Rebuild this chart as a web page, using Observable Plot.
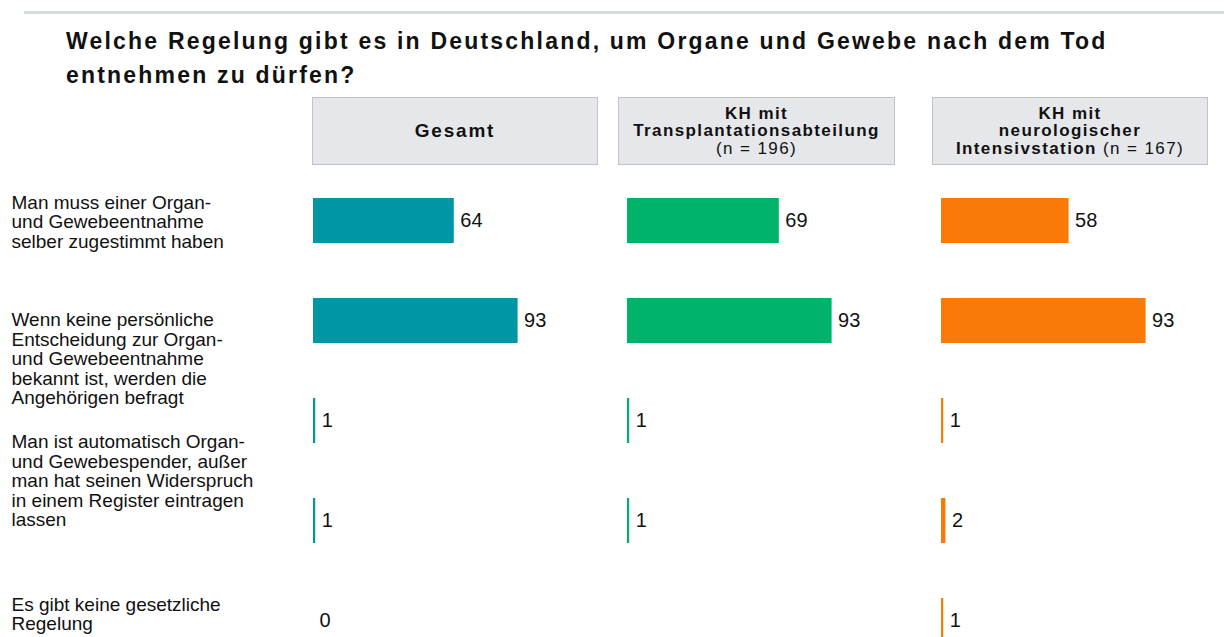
<!DOCTYPE html>
<html>
<head>
<meta charset="utf-8">
<script src="https://cdn.jsdelivr.net/npm/d3@7"></script>
<script src="https://cdn.jsdelivr.net/npm/@observablehq/plot@0.6"></script>
<style>
  html, body { margin: 0; padding: 0; background: #fff; }
  body { font-family: "Liberation Sans", Arial, sans-serif; color: #111; }
  #wrap { position: relative; width: 1224px; height: 637px; overflow: hidden; }
  .rule { position: absolute; left: 24px; top: 11px; width: 1200px; height: 3px; background: #d5dddb; }
  .title { position: absolute; left: 66px; top: 24px; font-weight: bold; font-size: 23px; line-height: 34px; letter-spacing: 2.2px; color: #111; white-space: nowrap; }
  .hdr { position: absolute; top: 97px; height: 68px; box-sizing: border-box; background: #e5e7eb; border: 1px solid #bfc3c9;
         display: flex; align-items: center; justify-content: center; text-align: center; font-size: 17px; line-height: 17.5px; letter-spacing: 1.4px; color: #111; white-space: nowrap; }
  .hdr b { font-weight: bold; }
  .hdr .big { font-size: 19px; letter-spacing: 1.8px; }
  #chart { position: absolute; left: 0; top: 170px; }
</style>
</head>
<body>
<div id="wrap">
  <div class="rule"></div>
  <div class="title" id="title"></div>
  <div id="headers"></div>
  <div id="chart"></div>
</div>
<script>
// ---- data ----
const titleLines = ["Welche Regelung gibt es in Deutschland, um Organe und Gewebe nach dem Tod", "entnehmen zu dürfen?"];
const groups = ["Gesamt", "KH mit Transplantationsabteilung", "KH mit neurologischer Intensivstation"];
const headerBold = [["Gesamt"], ["KH mit", "Transplantationsabteilung"], ["KH mit", "neurologischer", "Intensivstation"]];
const headerN = ["", "(n = 196)", "(n = 167)"];
const categories = [
  "Man muss einer Organ-\nund Gewebeentnahme\nselber zugestimmt haben",
  "Wenn keine persönliche\nEntscheidung zur Organ-\nund Gewebeentnahme\nbekannt ist, werden die\nAngehörigen befragt",
  "",
  "Man ist automatisch Organ-\nund Gewebespender, außer\nman hat seinen Widerspruch\nin einem Register eintragen\nlassen",
  "Es gibt keine gesetzliche\nRegelung"
];
const gesamt     = [64, 93, 1, 1, 0];
const transplant = [69, 93, 1, 1, null];
const neuro      = [58, 93, 1, 2, 1];
const colors = ["#0096a6", "#00b36b", "#f97a06"];

// ---- layout (not data) ----
const headerBoxes = [[312, 286], [618, 277], [932, 276]];
const labelShift = [1, 38, 0, -40, -7];

// ---- title & header ----
document.getElementById("title").innerHTML = titleLines.join("<br>");
const hdr = document.getElementById("headers");
groups.forEach((g, j) => {
  const d = document.createElement("div");
  d.className = "hdr";
  d.style.left = headerBoxes[j][0] + "px";
  d.style.width = headerBoxes[j][1] + "px";
  let html = "<div>";
  const lines = headerBold[j];
  if (j === 0) {
    html += `<b class="big">${lines[0]}</b>`;
  } else if (j === 1) {
    html += lines.map(l => `<b>${l}</b>`).join("<br>") + "<br>" + headerN[j];
  } else {
    html += lines.map(l => `<b>${l}</b>`).join("<br>") + " " + headerN[j];
  }
  html += "</div>";
  d.innerHTML = html;
  hdr.appendChild(d);
});

// ---- chart ----
const series = [gesamt, transplant, neuro];
const rows = [];
categories.forEach((c, i) => groups.forEach((g, j) => rows.push({category: c, group: g, value: series[j][i]})));
const present = rows.filter(d => d.value != null);

const labelMarks = categories.map((c, i) => c === "" ? null : Plot.text([{category: c, group: groups[0]}], {
  y: "category", fx: "group", text: "category", frameAnchor: "left", dx: -302, dy: labelShift[i],
  textAnchor: "start", lineAnchor: "middle", lineHeight: 1.02, fontSize: 19, fill: "#111",
  fontFamily: "Liberation Sans, Arial, sans-serif", style: "letter-spacing:1.6px"
})).filter(Boolean);

const chart = Plot.plot({
  width: 1224,
  height: 500,
  marginLeft: 312,
  marginRight: 63,
  marginTop: 0,
  marginBottom: 0,
  style: {fontFamily: "Liberation Sans, Arial, sans-serif", background: "transparent", overflow: "visible"},
  fx: {domain: groups, paddingInner: 0.3, paddingOuter: 0, axis: null},
  x: {domain: [0, 100], axis: null},
  y: {domain: categories, paddingInner: 0.55, paddingOuter: 0.275, axis: null},
  color: {domain: groups, range: colors},
  marks: [
    Plot.barX(present, {x: "value", y: "category", fx: "group", fill: "group"}),
    Plot.text(present, {x: "value", y: "category", fx: "group", text: d => String(d.value),
      textAnchor: "start", dx: 6, fontSize: 20, fill: "#111"}),
    ...labelMarks
  ]
});
document.getElementById("chart").appendChild(chart);
</script>
</body>
</html>
